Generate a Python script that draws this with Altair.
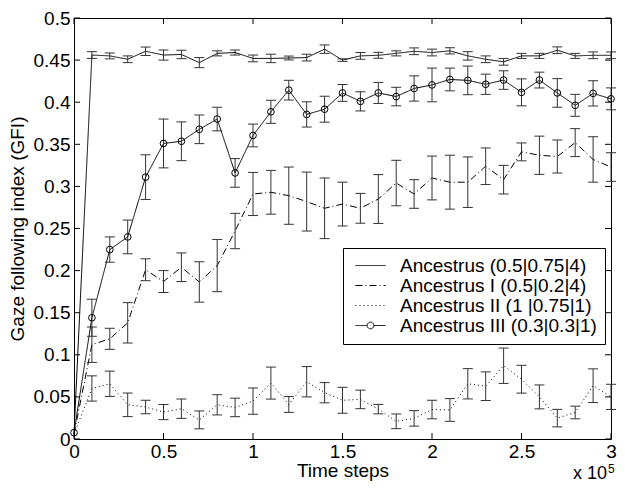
import math
import altair as alt
import pandas as pd

# ---------------- data ----------------
steps = [0, 10000, 20000, 30000, 40000, 50000, 60000, 70000, 80000, 90000,
         100000, 110000, 120000, 130000, 140000, 150000, 160000, 170000, 180000, 190000,
         200000, 210000, 220000, 230000, 240000, 250000, 260000, 270000, 280000, 290000,
         300000]

names = ["Ancestrus (0.5|0.75|4)", "Ancestrus I (0.5|0.2|4)",
         "Ancestrus II (1 |0.75|1)", "Ancestrus III (0.3|0.3|1)"]

anc_mean = [0.006, 0.456, 0.455, 0.451, 0.4605, 0.456, 0.4567, 0.447, 0.458, 0.459,
            0.452, 0.452, 0.4525, 0.453, 0.463, 0.450, 0.455, 0.4557, 0.458, 0.4605,
            0.459, 0.461, 0.455, 0.451, 0.448, 0.455, 0.455, 0.4617, 0.455, 0.4557,
            0.4557]
anc_err = [0.0, 0.004, 0.0035, 0.004, 0.005, 0.006, 0.005, 0.006, 0.003, 0.003,
           0.004, 0.005, 0.0023, 0.004, 0.005, 0.0015, 0.004, 0.0035, 0.003, 0.004,
           0.004, 0.0037, 0.005, 0.004, 0.004, 0.003, 0.003, 0.004, 0.003, 0.004,
           0.004]

anc1_mean = [0.006, 0.112, 0.119, 0.138, 0.201, 0.187, 0.204, 0.1865, 0.206, 0.247,
             0.291, 0.293, 0.289, 0.282, 0.274, 0.279, 0.274, 0.285, 0.304, 0.291,
             0.310, 0.305, 0.305, 0.324, 0.308, 0.341, 0.337, 0.3355, 0.352, 0.332,
             0.323]
anc1_err = [0.0, 0.021, 0.0125, 0.024, 0.013, 0.013, 0.017, 0.024, 0.031, 0.021,
            0.0256, 0.026, 0.034, 0.035, 0.036, 0.026, 0.0177, 0.029, 0.027, 0.017,
            0.026, 0.032, 0.030, 0.0217, 0.017, 0.0106, 0.0227, 0.0196, 0.0166, 0.027,
            0.017]

anc2_mean = [0.006, 0.060, 0.0656, 0.0406, 0.038, 0.032, 0.036, 0.0227, 0.0406, 0.0375,
             0.045, 0.0664, 0.041, 0.068, 0.055, 0.046, 0.047, 0.0355, 0.021, 0.0245,
             0.035, 0.0345, 0.0656, 0.0627, 0.087, 0.071, 0.050, 0.0248, 0.0315, 0.0633,
             0.050]
anc2_err = [0.0, 0.015, 0.015, 0.014, 0.008, 0.009, 0.0115, 0.0106, 0.012, 0.011,
            0.0156, 0.019, 0.0094, 0.018, 0.012, 0.0154, 0.011, 0.0056, 0.0087, 0.0092,
            0.011, 0.0135, 0.018, 0.017, 0.021, 0.0165, 0.0142, 0.0104, 0.0075, 0.020,
            0.015]

anc3_mean = [0.0075, 0.144, 0.225, 0.240, 0.311, 0.351, 0.3536, 0.3678, 0.380, 0.316,
             0.3605, 0.3886, 0.4143, 0.3855, 0.3917, 0.411, 0.401, 0.411, 0.4067, 0.4163,
             0.4205, 0.427, 0.4259, 0.4213, 0.4263, 0.4117, 0.4263, 0.411, 0.3963, 0.4105,
             0.404]
anc3_err = [0.0, 0.022, 0.015, 0.020, 0.0265, 0.029, 0.023, 0.017, 0.014, 0.017,
            0.0135, 0.0137, 0.0117, 0.015, 0.0154, 0.010, 0.0114, 0.0125, 0.011, 0.015,
            0.020, 0.0135, 0.017, 0.012, 0.011, 0.016, 0.0094, 0.017, 0.013, 0.015,
            0.013]

x_ticks = [0, 50000, 100000, 150000, 200000, 250000, 300000]
y_ticks = [0, 0.05, 0.1, 0.15, 0.2, 0.25, 0.3, 0.35, 0.4, 0.45, 0.5]

# ---------------- table ----------------
means = [anc_mean, anc1_mean, anc2_mean, anc3_mean]
errs = [anc_err, anc1_err, anc2_err, anc3_err]
rows = []
for name, m, e in zip(names, means, errs):
    for s, v, d in zip(steps, m, e):
        rows.append({"series": name, "step": s, "gfi": v, "err": d,
                     "lo": v - d, "hi": v + d})
df = pd.DataFrame(rows)

# ---------------- styling ----------------
FONT = "Liberation Sans"
FS = 19
W, H = 537, 421
PAD_L, PAD_T, PAD_R, PAD_B = 66, 10, 6, 45
TICK = 6

# legend symbols: symbolSize 324 -> 1 path unit = 9 px; lines drawn 30 px wide
p_line = "M-1.67,0L1.67,0"
_r = 0.37
_circ = "M%.3f,0" % _r + "".join(
    "L%.3f,%.3f" % (_r * math.cos(2 * math.pi * k / 20), _r * math.sin(2 * math.pi * k / 20))
    for k in range(1, 21))
p_circ = "M-1.67,0L-%.2f,0M%.2f,0L1.67,0" % (_r, _r) + _circ

xs = alt.Scale(domain=[0, 300000], nice=False, zero=False)
ys = alt.Scale(domain=[0, 0.5], nice=False, zero=False)

XAX = alt.Axis(values=x_ticks, labelExpr="datum.value / 100000", title="Time steps",
               labelFlush=False, labelPadding=3, titlePadding=0,
               grid=False, ticks=False, domain=False)
YAX = alt.Axis(values=y_ticks, format="~g", title="Gaze following index (GFI)",
               labelFlush=False, labelPadding=4, titlePadding=6,
               grid=False, ticks=False, domain=False)

LEG = dict(title=None, orient="none", legendX=269, legendY=230, labelLimit=0)

base = alt.Chart(df)

dash_scale = alt.Scale(domain=names, range=[[1, 0], [7, 3, 1, 3], [1, 3], [1, 0]])

lines = base.mark_line(color="black", strokeWidth=1).encode(
    x=alt.X("step:Q", scale=xs, axis=XAX),
    y=alt.Y("gfi:Q", scale=ys, axis=YAX),
    strokeDash=alt.StrokeDash("series:N", scale=dash_scale, legend=alt.Legend(**LEG)),
    detail="series:N",
)

eb = base.transform_filter("datum.err > 0")
err_rule = eb.mark_rule(color="#333333", strokeWidth=1).encode(
    x=alt.X("step:Q", scale=xs, axis=XAX),
    y=alt.Y("lo:Q", scale=ys, axis=YAX),
    y2="hi:Q",
)
cap_lo = eb.mark_tick(orient="horizontal", size=10, thickness=1,
                      color="#333333", opacity=1).encode(
    x=alt.X("step:Q", scale=xs, axis=XAX),
    y=alt.Y("lo:Q", scale=ys, axis=YAX),
)
cap_hi = eb.mark_tick(orient="horizontal", size=10, thickness=1,
                      color="#333333", opacity=1).encode(
    x=alt.X("step:Q", scale=xs, axis=XAX),
    y=alt.Y("hi:Q", scale=ys, axis=YAX),
)

pts = base.transform_filter(alt.datum.series == names[3]).mark_point(
    shape="circle", size=45, filled=False, color="black", strokeWidth=1, opacity=1
).encode(
    x=alt.X("step:Q", scale=xs, axis=XAX),
    y=alt.Y("gfi:Q", scale=ys, axis=YAX),
)

# empty layer that only feeds the legend its symbol shapes
legend_layer = base.transform_filter("datum.step < 0").mark_point(
    filled=False, color="black", strokeWidth=1, opacity=1
).encode(
    x=alt.X("step:Q", scale=xs, axis=XAX),
    y=alt.Y("gfi:Q", scale=ys, axis=YAX),
    shape=alt.Shape("series:N",
                    scale=alt.Scale(domain=names,
                                    range=[p_line, p_line, p_line, p_circ]),
                    legend=alt.Legend(**LEG)),
)

# inward ticks on all four sides (Matlab box style)
xt = alt.Chart(pd.DataFrame({"t": x_ticks}))
yt = alt.Chart(pd.DataFrame({"v": y_ticks}))
tick_bottom = xt.mark_rule(color="black", strokeWidth=1).encode(
    x=alt.X("t:Q", scale=xs, axis=XAX), y=alt.value(H), y2=alt.value(H - TICK))
tick_top = xt.mark_rule(color="black", strokeWidth=1).encode(
    x=alt.X("t:Q", scale=xs, axis=XAX), y=alt.value(0), y2=alt.value(TICK))
tick_left = yt.mark_rule(color="black", strokeWidth=1).encode(
    y=alt.Y("v:Q", scale=ys, axis=YAX), x=alt.value(0), x2=alt.value(TICK))
tick_right = yt.mark_rule(color="black", strokeWidth=1).encode(
    y=alt.Y("v:Q", scale=ys, axis=YAX), x=alt.value(W), x2=alt.value(W - TICK))

# "x 10^5" exponent note
exp_main = alt.Chart(pd.DataFrame({"s": ["x 10"]})).mark_text(
    align="right", baseline="alphabetic", font=FONT, fontSize=18, color="black"
).encode(text="s:N", x=alt.value(W - 4), y=alt.value(H + 40))
exp_sup = alt.Chart(pd.DataFrame({"s": ["5"]})).mark_text(
    align="left", baseline="alphabetic", font=FONT, fontSize=12, color="black"
).encode(text="s:N", x=alt.value(W - 3), y=alt.value(H + 34))

chart = alt.layer(
    lines, err_rule, cap_lo, cap_hi, pts, legend_layer,
    tick_bottom, tick_top, tick_left, tick_right, exp_main, exp_sup
).properties(
    width=W, height=H,
    padding={"left": PAD_L, "top": PAD_T, "right": PAD_R, "bottom": PAD_B},
    autosize=alt.AutoSizeParams(type="none"),
).configure_view(
    stroke="black", strokeWidth=1
).configure_axis(
    labelFont=FONT, labelFontSize=FS, labelColor="black",
    titleFont=FONT, titleFontSize=FS, titleFontWeight="normal", titleColor="black",
).configure_legend(
    padding=8, rowPadding=0, strokeColor="black", fillColor="white",
    cornerRadius=0, strokeWidth=1,
    labelFont=FONT, labelFontSize=FS, labelColor="black",
    symbolSize=324, symbolStrokeWidth=1, symbolStrokeColor="black",
    symbolFillColor="transparent", labelOffset=20, symbolOffset=10,
)

chart.save("out.html", embed_options={"renderer": "svg", "actions": False})
